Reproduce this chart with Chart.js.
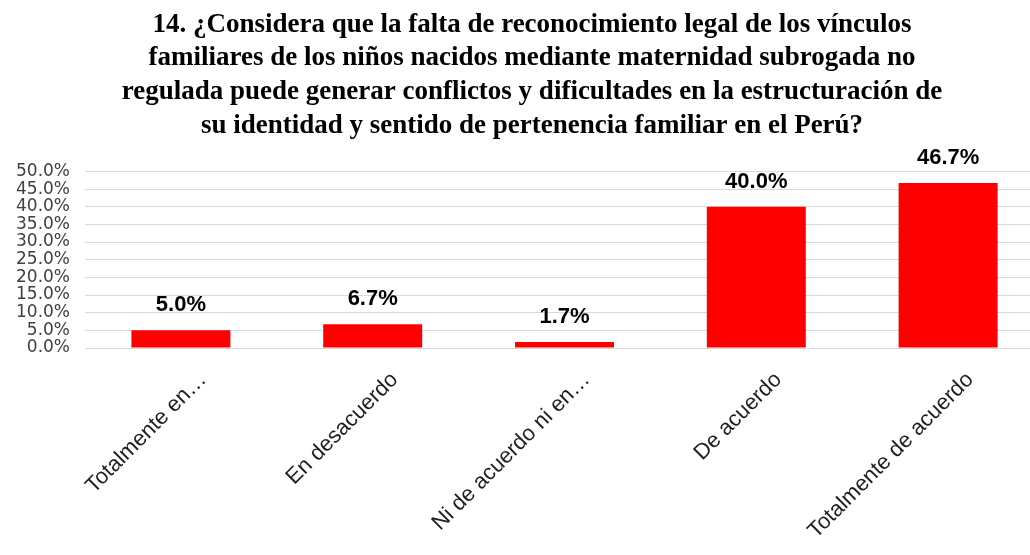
<!DOCTYPE html>
<html>
<head>
<meta charset="utf-8">
<script src="https://cdn.jsdelivr.net/npm/chart.js@4/dist/chart.umd.min.js"></script>
<style>
  html, body { margin: 0; padding: 0; background: #ffffff; overflow: hidden; }
  #wrap { position: absolute; left: 0; top: 0; }
</style>
</head>
<body>
<div id="wrap"><canvas id="encuestaChart" width="1044" height="555"></canvas></div>
<script>
// Chart data
var tituloLineas = [
    "14. ¿Considera que la falta de reconocimiento legal de los vínculos",
    "familiares de los niños nacidos mediante maternidad subrogada no",
    "regulada puede generar conflictos y dificultades en la estructuración de",
    "su identidad y sentido de pertenencia familiar en el Perú?"
];
var categorias = [
    "Totalmente en…",
    "En desacuerdo",
    "Ni de acuerdo ni en…",
    "De acuerdo",
    "Totalmente de acuerdo"
];
var porcentajes = [5.0, 6.7, 1.7, 40.0, 46.7];
var ejeMin = 0;
var ejeMax = 50;
var ejePaso = 5;

// draws the value labels above each bar
var etiquetasBarras = {
    id: "etiquetasBarras",
    afterDatasetsDraw: function (chart) {
        var ctx = chart.ctx;
        var meta = chart.getDatasetMeta(0);
        ctx.save();
        ctx.font = "bold 22px 'Liberation Sans', Arial, sans-serif";
        ctx.fillStyle = "#000000";
        ctx.textAlign = "center";
        ctx.textBaseline = "alphabetic";
        meta.data.forEach(function (bar, i) {
            ctx.fillText(porcentajes[i].toFixed(1) + "%", bar.x, bar.y - 19);
        });
        ctx.restore();
    }
};

// title sits a bit right of the canvas centre, like the original
var correrTitulo = {
    id: "correrTitulo",
    afterLayout: function (chart) {
        if (chart.titleBlock) {
            chart.titleBlock.left = 20;
        }
    }
};

document.addEventListener("DOMContentLoaded", function () {
    "use strict";

    var ctx = document.getElementById("encuestaChart").getContext("2d");

    new Chart(ctx, {
        type: "bar",
        data: {
            labels: categorias,
            datasets: [
                {
                    data: porcentajes,
                    backgroundColor: "#ff0000",
                    borderWidth: 0,
                    barPercentage: 0.516,
                    categoryPercentage: 1.0
                }
            ]
        },
        options: {
            responsive: false,
            animation: false,
            devicePixelRatio: 1,
            layout: {
                padding: { left: 0, right: 0, top: 0, bottom: 0 }
            },
            plugins: {
                legend: { display: false },
                tooltip: { enabled: false },
                title: {
                    display: true,
                    text: tituloLineas,
                    color: "#000000",
                    font: {
                        family: "'Liberation Serif', 'Times New Roman', serif",
                        size: 27,
                        weight: "bold",
                        lineHeight: 1.245
                    },
                    padding: { top: 8, bottom: 29 }
                }
            },
            scales: {
                x: {
                    grid: { display: false, drawTicks: false },
                    border: { display: true, color: "#d9d9d9", width: 1 },
                    ticks: {
                        color: "#1f1f1f",
                        font: { family: "'Liberation Sans', Arial, sans-serif", size: 22 },
                        minRotation: 45,
                        maxRotation: 45,
                        autoSkip: false,
                        padding: 19,
                        labelOffset: 22
                    },
                    afterFit: function (scale) {
                        scale.height = 207;
                    }
                },
                y: {
                    min: ejeMin,
                    max: ejeMax,
                    grid: { color: "#d9d9d9", lineWidth: 1, drawTicks: false },
                    border: { display: false },
                    ticks: {
                        stepSize: ejePaso,
                        autoSkip: false,
                        color: "#404040",
                        padding: 15,
                        font: { family: "'DejaVu Sans', Verdana, sans-serif", size: 17, lineHeight: 1 },
                        callback: function (value) {
                            return value.toFixed(1) + "%";
                        }
                    },
                    afterFit: function (scale) {
                        scale.width = 85;
                    }
                }
            }
        },
        plugins: [etiquetasBarras, correrTitulo]
    });
});
</script>
</body>
</html>
